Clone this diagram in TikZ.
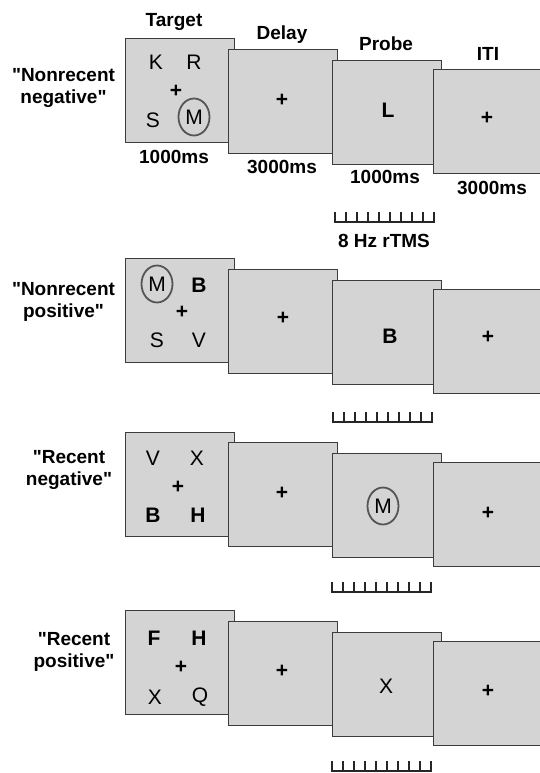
\documentclass[tikz,border=0pt]{standalone}
\usepackage{fontspec}
\setmainfont{Liberation Sans}[Ligatures=TeXOff]
\usetikzlibrary{calc,shapes.geometric}
\definecolor{boxgray}{RGB}{212,212,212}
\definecolor{edgegray}{RGB}{60,60,60}
\definecolor{ringgray}{RGB}{85,85,85}
\begin{document}
\begin{tikzpicture}[x=1pt,y=-1pt,
  frame/.style={draw=edgegray, line width=1.1pt, fill=boxgray, minimum width=109pt, minimum height=104pt, anchor=north west, inner sep=0pt},
  lbl/.style={font=\fontsize{19}{21.5}\selectfont\bfseries, inner sep=0pt, align=center, anchor=north},
  head/.style={font=\fontsize{19}{21}\selectfont\bfseries, inner sep=0pt, anchor=base},
  ltr/.style={font=\fontsize{21}{21}\selectfont, inner sep=0pt},
  bltr/.style={font=\fontsize{21}{21}\selectfont\bfseries, inner sep=0pt},
  fix/.style={font=\fontsize{21}{21}\selectfont\bfseries, inner sep=0pt},
  ring/.style={draw=ringgray, line width=1.8pt, ellipse, minimum width=31pt, minimum height=37pt, inner sep=0pt, font=\fontsize{21}{21}\selectfont},
  tick/.style={line width=1.2pt, draw=black!85, line cap=rect},
  ruler/.pic={\draw[tick] (0,0) -- (99,0);
    \foreach \i in {0,...,9} \draw[tick] (\i*11,0) -- (\i*11,-9);}
]
\useasboundingbox (0,0) rectangle (540,773);

% headers
\node[head] (hT) at (174,27) {Target};
\node[head] (hD) at (282,40) {Delay};
\node[head] (hP) at (386,51) {Probe};
\node[head] (hI) at (488,61) {ITI};

% ---------- Row 1 ----------
\node[lbl] (c1) at (63.5,68.4) {"Nonrecent\\negative"};
\node[frame] (t1) at (125,38) {};
\node[ltr] (t1a) at (156,62) {K};
\node[ltr] (t1b) at (194,62) {R};
\node[fix] (t1c) at (176,91) {+};
\node[ltr] (t1d) at (153,120) {S};
\node[ring] (t1e) at (194,117) {M};
\node[frame] (d1) at (228,49) {};
\node[fix] (d1a) at (282,100) {+};
\node[frame] (p1) at (332,60) {};
\node[bltr] (p1a) at (388,110) {L};
\node[frame] (i1) at (433,69) {};
\node[fix] (i1a) at (487,118) {+};
\node[head] (m1a) at (174,163) {1000ms};
\node[head] (m1b) at (282,173) {3000ms};
\node[head] (m1c) at (385,183) {1000ms};
\node[head] (m1d) at (492,194) {3000ms};
\pic at (335,222) {ruler};
\node[head] (tms) at (384,247) {8 Hz rTMS};

% ---------- Row 2 ----------
\node[lbl] (c2) at (63.5,282.4) {"Nonrecent\\positive"};
\node[frame] (t2) at (125,258) {};
\node[ring] (t2a) at (157,284) {M};
\node[bltr] (t2b) at (199,285) {B};
\node[fix] (t2c) at (182,312) {+};
\node[ltr] (t2d) at (157,340) {S};
\node[ltr] (t2e) at (199,340) {V};
\node[frame] (d2) at (228,269) {};
\node[fix] (d2a) at (283,318) {+};
\node[frame] (p2) at (332,280) {};
\node[bltr] (p2a) at (390,336) {B};
\node[frame] (i2) at (433,289) {};
\node[fix] (i2a) at (488,337) {+};
\pic at (333,422) {ruler};

% ---------- Row 3 ----------
\node[lbl] (c3) at (69,450.4) {"Recent\\negative"};
\node[frame] (t3) at (125,432) {};
\node[ltr] (t3a) at (153,458) {V};
\node[ltr] (t3b) at (197,458) {X};
\node[fix] (t3c) at (178,487) {+};
\node[bltr] (t3d) at (153,515) {B};
\node[bltr] (t3e) at (198,515) {H};
\node[frame] (d3) at (228,442) {};
\node[fix] (d3a) at (282,493) {+};
\node[frame] (p3) at (332,453) {};
\node[ring] (p3a) at (383,506) {M};
\node[frame] (i3) at (433,462) {};
\node[fix] (i3a) at (488,513) {+};
\pic at (332,592) {ruler};

% ---------- Row 4 ----------
\node[lbl] (c4) at (74,632.4) {"Recent\\positive"};
\node[frame] (t4) at (125,610) {};
\node[bltr] (t4a) at (154,638) {F};
\node[bltr] (t4b) at (199,638) {H};
\node[fix] (t4c) at (181,667) {+};
\node[ltr] (t4d) at (155,697) {X};
\node[ltr] (t4e) at (200,697) {Q};
\node[frame] (d4) at (228,621) {};
\node[fix] (d4a) at (282,671) {+};
\node[frame] (p4) at (332,632) {};
\node[ltr] (p4a) at (386,686) {X};
\node[frame] (i4) at (433,641) {};
\node[fix] (i4a) at (488,691) {+};
\pic at (332,771) {ruler};
\end{tikzpicture}
\end{document}
